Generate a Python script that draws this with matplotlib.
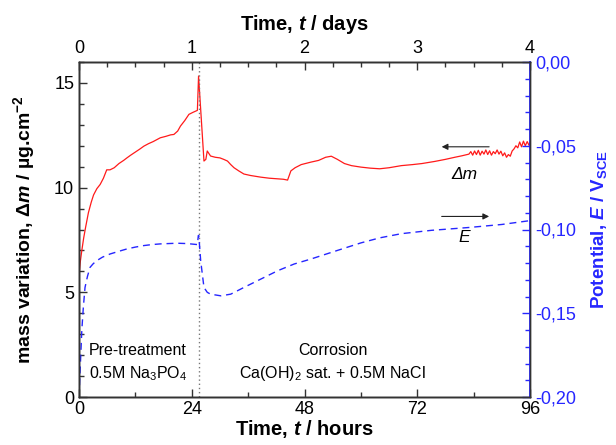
import matplotlib
matplotlib.use("Agg")
import matplotlib.pyplot as plt
from matplotlib.ticker import MultipleLocator, FuncFormatter

plt.rcParams['font.family'] = ['Liberation Sans', 'DejaVu Sans']
plt.rcParams['mathtext.fontset'] = 'custom'
plt.rcParams['mathtext.rm'] = 'Liberation Sans:bold'
plt.rcParams['mathtext.it'] = 'Liberation Sans:italic:bold'
plt.rcParams['mathtext.bf'] = 'Liberation Sans:bold'

# ---- data ----
hours_m = [0, 0.3, 0.6, 1.0, 1.4, 2.0, 2.6, 3.1, 3.8, 4.5, 5.2, 5.9, 6.6, 7.5, 8.5,
           9.5, 10.2, 11.0, 12.0, 13.0, 13.8, 14.8, 15.8, 17.3, 18.5, 19.5, 20.2,
           21.0, 21.6, 22.5, 23.4, 24.3, 25.2, 25.45, 26.6, 27.0, 27.3, 28.0, 29.0,
           30.0, 30.8, 31.6, 32.3, 33.0, 34.0, 35.1, 36.5, 38.7, 40.5, 42.3, 43.5,
           44.4, 45.1, 46.0, 47.3, 49.4, 51.0, 52.5, 53.7, 55.0, 56.5, 58.0, 60.0,
           62.0, 64.0, 66.0, 68.6, 71.0, 73.0, 75.7, 78.0, 80.0, 81.5,
           83.0, 83.4, 83.8, 84.2, 84.6, 85.0, 85.4, 85.8, 86.2, 86.6, 87.0, 87.4,
           87.8, 88.2, 88.6, 89.0, 89.4, 89.8, 90.2, 90.6, 91.0, 91.4, 91.8, 92.2,
           92.6, 93.0, 93.4, 93.8, 94.2, 94.6, 95.0, 95.4, 95.8, 96.0]
mass = [5.8, 6.5, 7.0, 7.6, 8.1, 8.8, 9.3, 9.65, 9.95, 10.15, 10.45, 10.85, 10.85,
        10.95, 11.15, 11.3, 11.42, 11.55, 11.7, 11.85, 11.98, 12.1, 12.2, 12.38,
        12.45, 12.52, 12.54, 12.7, 12.94, 13.2, 13.5, 13.6, 13.69, 15.33, 11.27,
        11.35, 11.75, 11.51, 11.45, 11.42, 11.35, 11.27, 11.1, 10.95, 10.8, 10.65,
        10.58, 10.5, 10.45, 10.42, 10.4, 10.36, 10.8, 10.95, 11.1, 11.22, 11.3,
        11.45, 11.5, 11.35, 11.15, 11.05, 10.98, 10.93, 10.9, 10.95, 11.05, 11.1,
        11.15, 11.25, 11.35, 11.45, 11.52,
        11.60, 11.72, 11.55, 11.75, 11.58, 11.78, 11.55, 11.74, 11.60, 11.80,
        11.58, 11.76, 11.55, 11.72, 11.62, 11.80, 11.60, 11.74, 11.52, 11.66,
        11.45, 11.58, 11.50, 11.75, 11.85, 12.00, 11.90, 12.18, 11.95, 12.22,
        12.00, 12.20, 12.02, 12.15]

hours_e = [0, 0.3, 0.6, 0.92, 1.28, 1.8, 2.35, 3.0, 3.78, 5.0, 6.63, 8.5, 10.2,
           12.0, 13.8, 15.5, 17.3, 19.0, 20.9, 23.0, 25.2, 25.4, 25.5, 25.9, 26.6,
           27.3, 28.0, 30.2, 32.3, 35.1, 38.7, 42.3, 45.8, 49.4, 55.0, 60.0, 64.0,
           68.6, 75.0, 83.0, 90.0, 96.0]
potential = [-0.200, -0.180, -0.160, -0.1466, -0.1346, -0.128, -0.1226, -0.1205,
             -0.1186, -0.1165, -0.1146, -0.113, -0.1116, -0.1105, -0.1096, -0.109,
             -0.1086, -0.1084, -0.1082, -0.1084, -0.109, -0.1036, -0.1036, -0.1186,
             -0.1346, -0.1375, -0.1386, -0.1396, -0.1386, -0.1346, -0.1296, -0.1246,
             -0.1206, -0.1176, -0.1125, -0.108, -0.105, -0.1025, -0.1005, -0.0988,
             -0.097, -0.0947]

switch_hour = 25.5
xticks_hours = [0, 24, 48, 72, 96]
xticks_days = [0, 1, 2, 3, 4]

blue = '#2626ff'
spine_col = '#333333'

fig = plt.figure(figsize=(6.16, 4.45), dpi=100)
ax = fig.add_axes([79/616, 48/445, 451/616, 335/445])
ax2 = ax.twinx()
ax3 = ax.twiny()
ax2.set_position(ax.get_position())
ax3.set_position(ax.get_position())

ax.plot(hours_m, mass, color='#ff1a1a', lw=0.9)
ax.axvline(switch_hour, color='#777777', ls=(0, (1, 2)), lw=1)
ax2.plot(hours_e, potential, color=blue, lw=1.0, ls=(0, (5, 3.5)))

ax.set_xlim(0, 96)
ax.set_ylim(0, 16)
ax2.set_ylim(-0.20, 0.0)
ax3.set_xlim(0, 4)

ax.set_xticks(xticks_hours)
ax.xaxis.set_minor_locator(MultipleLocator(12))
ax.yaxis.set_major_locator(MultipleLocator(5))
ax.yaxis.set_minor_locator(MultipleLocator(1))
ax2.yaxis.set_major_locator(MultipleLocator(0.05))
ax2.yaxis.set_minor_locator(MultipleLocator(0.01))
ax3.set_xticks(xticks_days)
ax3.xaxis.set_minor_locator(MultipleLocator(0.25))
ax2.yaxis.set_major_formatter(FuncFormatter(lambda v, p: f"{v:.2f}".replace('.', ',').replace('\u2212', '-')))

ax.tick_params(axis='both', which='both', direction='in', top=False, right=False,
               colors=spine_col, labelcolor='black', labelsize=13, width=1)
ax.tick_params(which='major', length=6)
ax.tick_params(which='minor', length=3.5)
ax.tick_params(axis='x', pad=3)
ax3.tick_params(axis='x', which='both', direction='in', colors=spine_col,
                labelcolor='black', labelsize=13, width=1)
ax3.tick_params(which='major', length=6)
ax3.tick_params(which='minor', length=3.5)
ax2.tick_params(axis='y', which='both', direction='in', colors=blue,
                labelsize=13, width=1, pad=4)
ax2.tick_params(which='major', length=6)
ax2.tick_params(which='minor', length=3.5)

for a in (ax, ax2, ax3):
    for s in a.spines.values():
        s.set_color(spine_col)
        s.set_linewidth(1)
ax2.spines['right'].set_color(blue)
ax2.spines['right'].set_linewidth(1.3)

ax.set_xlabel('Time, $t$ / hours', fontsize=14.5, fontweight='bold', labelpad=0)
ax3.set_xlabel('Time, $t$ / days', fontsize=14.5, fontweight='bold', labelpad=7)
ax.set_ylabel('mass variation, $\\Delta m$ / µg.cm$^{-2}$', fontsize=14,
              fontweight='bold', labelpad=12)
ax2.set_ylabel('Potential, $E$ / V$_{\\mathrm{SCE}}$', fontsize=13.5,
               fontweight='bold', color=blue, labelpad=9)

# annotations
ax.annotate('', xy=(77.2, 11.95), xytext=(87.3, 11.95),
            arrowprops=dict(arrowstyle='-|>', color='#222222', lw=0.8,
                            mutation_scale=9, shrinkA=0, shrinkB=0))
ax.text(82.0, 10.65, 'Δm', fontsize=12.5, fontstyle='italic', ha='center', va='center')
ax2.annotate('', xy=(87.3, -0.0922), xytext=(77.2, -0.0922),
             arrowprops=dict(arrowstyle='-|>', color='#222222', lw=0.8,
                             mutation_scale=9, shrinkA=0, shrinkB=0))
ax2.text(82.0, -0.1048, 'E', fontsize=12.5, fontstyle='italic', ha='center', va='center')

ax.text(12.5, 2.2, 'Pre-treatment', fontsize=11.5, ha='center', va='center')
ax.text(12.5, 1.1, '0.5M Na$_\\mathregular{3}$PO$_\\mathregular{4}$', fontsize=11.5,
        ha='center', va='center')
ax.text(54.0, 2.2, 'Corrosion', fontsize=11.5, ha='center', va='center')
ax.text(54.0, 1.1, 'Ca(OH)$_\\mathregular{2}$ sat. + 0.5M NaCl', fontsize=11.5,
        ha='center', va='center')

fig.savefig('out.png', dpi=100)
